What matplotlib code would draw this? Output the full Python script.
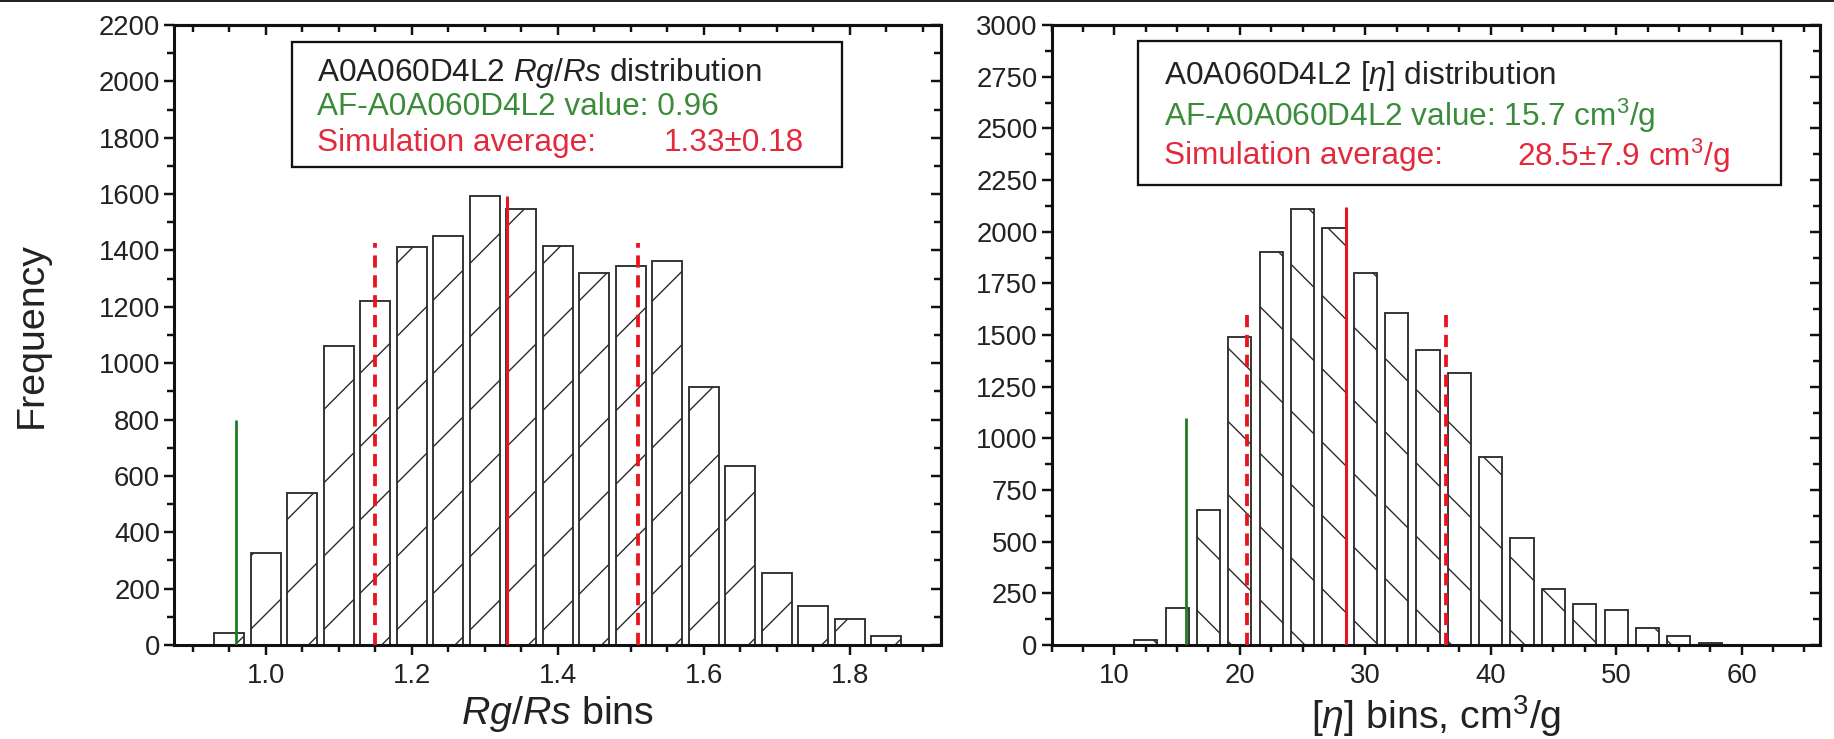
import matplotlib
matplotlib.use('Agg')
import matplotlib.pyplot as plt
from matplotlib.lines import Line2D
from matplotlib.patches import Rectangle
from matplotlib.ticker import MultipleLocator, FormatStrFormatter

# ---------------- data ----------------
rg_bins = [0.95, 1.00, 1.05, 1.10, 1.15, 1.20, 1.25, 1.30, 1.35, 1.40,
           1.45, 1.50, 1.55, 1.60, 1.65, 1.70, 1.75, 1.80, 1.85]
rg_freq = [42, 325, 538, 1060, 1220, 1412, 1450, 1593, 1548, 1416,
           1320, 1346, 1362, 915, 635, 255, 138, 93, 32]
rg_af_value = 0.96
rg_mean = 1.33
rg_sd = 0.18
rg_af_height = 800
rg_mean_height = 1595
rg_sd_height = 1425

eta_bins = [12.5, 15.0, 17.5, 20.0, 22.5, 25.0, 27.5, 30.0, 32.5, 35.0,
            37.5, 40.0, 42.5, 45.0, 47.5, 50.0, 52.5, 55.0, 57.5]
eta_freq = [22, 178, 653, 1490, 1902, 2112, 2016, 1801, 1606, 1428,
            1315, 910, 517, 270, 198, 168, 80, 43, 12]
eta_af_value = 15.7
eta_mean = 28.5
eta_sd = 7.9
eta_af_height = 1100
eta_mean_height = 2120
eta_sd_height = 1625

rg_legend = ["A0A060D4L2 $Rg/Rs$ distribution",
             "AF-A0A060D4L2 value: 0.96",
             "Simulation average:", "1.33\u00b10.18"]
eta_legend = ["A0A060D4L2 [$\\eta$] distribution",
              "AF-A0A060D4L2 value: 15.7 cm$^3$/g",
              "Simulation average:", "28.5\u00b17.9 cm$^3$/g"]

# ---------------- style ----------------
plt.rcParams['font.family'] = ['Liberation Sans', 'DejaVu Sans']
plt.rcParams['mathtext.fontset'] = 'custom'
plt.rcParams['mathtext.rm'] = 'Liberation Sans'
plt.rcParams['mathtext.it'] = 'Liberation Sans:italic'
plt.rcParams['mathtext.bf'] = 'Liberation Sans:bold'
plt.rcParams['hatch.linewidth'] = 0.45

DPI = 220
W, H = 1834, 739
TXT = '#222222'
EDGE = '#2a2a2a'
GREEN_LINE = '#1e7a1e'
GREEN_TXT = '#3a8c3a'
RED_LINE = '#e8141e'
RED_TXT = '#e32a3c'

fig = plt.figure(figsize=(W / DPI, H / DPI), dpi=DPI)
ax1 = fig.add_axes([174.3 / W, 94 / H, 766.7 / W, 620 / H])
ax2 = fig.add_axes([1051.7 / W, 94 / H, 768.3 / W, 620 / H])

# top border line of the image
fig.add_artist(Line2D([0, 1], [0.999, 0.999], transform=fig.transFigure,
                      color='#111111', lw=0.6))


def style_axes(ax, xmaj, xmin, ymaj, ymin, xfmt, yfmt):
    for s in ax.spines.values():
        s.set_linewidth(1.0)
        s.set_color('#111111')
    ax.xaxis.set_major_locator(MultipleLocator(xmaj))
    ax.xaxis.set_minor_locator(MultipleLocator(xmin))
    ax.yaxis.set_major_locator(MultipleLocator(ymaj))
    ax.yaxis.set_minor_locator(MultipleLocator(ymin))
    ax.xaxis.set_major_formatter(FormatStrFormatter(xfmt))
    ax.yaxis.set_major_formatter(FormatStrFormatter(yfmt))
    ax.tick_params(axis='both', which='both', direction='out',
                   top=False, right=False, width=0.8, color='#111111',
                   labelsize=9.0, labelcolor=TXT)
    ax.tick_params(axis='both', which='major', length=3.4)
    ax.tick_params(axis='x', which='major', pad=2.5)
    ax.tick_params(axis='y', which='major', pad=1.2)
    ax.tick_params(axis='both', which='minor', length=2.2)
    secx = ax.secondary_xaxis('top')
    secx.xaxis.set_major_locator(MultipleLocator(xmaj))
    secx.xaxis.set_minor_locator(MultipleLocator(xmin))
    secx.tick_params(axis='x', which='both', direction='in', labeltop=False,
                     width=0.8, color='#111111')
    secx.tick_params(axis='x', which='major', length=3.4)
    secx.tick_params(axis='x', which='minor', length=2.2)
    secx.spines['top'].set_linewidth(1.0)
    secy = ax.secondary_yaxis('right')
    secy.yaxis.set_major_locator(MultipleLocator(ymaj))
    secy.yaxis.set_minor_locator(MultipleLocator(ymin))
    secy.tick_params(axis='y', which='both', direction='in', labelright=False,
                     width=0.8, color='#111111')
    secy.tick_params(axis='y', which='major', length=3.4)
    secy.tick_params(axis='y', which='minor', length=2.2)
    secy.spines['right'].set_linewidth(1.0)


def legend_box(ax, x0, y0, x1, y1, lines, xs, ys, xval):
    ax.add_patch(Rectangle((x0, y0), x1 - x0, y1 - y0, transform=ax.transAxes,
                           facecolor='white', edgecolor='#111111', lw=0.75,
                           zorder=5, clip_on=False))
    kw = dict(transform=ax.transAxes, fontsize=10.3, va='center', ha='left', zorder=6)
    ax.text(xs, ys[0], lines[0], color=TXT, **kw)
    ax.text(xs, ys[1], lines[1], color=GREEN_TXT, **kw)
    ax.text(xs, ys[2], lines[2], color=RED_TXT, **kw)
    ax.text(xval, ys[2], lines[3], color=RED_TXT, **kw)


# ---------------- left panel ----------------
ax1.bar(rg_bins, rg_freq, width=0.041, facecolor='white', edgecolor=EDGE,
        linewidth=0.6, hatch='/', zorder=2)
ax1.vlines(rg_af_value, 0, rg_af_height, color=GREEN_LINE, lw=0.9, zorder=3)
ax1.vlines(rg_mean, 0, rg_mean_height, color=RED_LINE, lw=1.0, zorder=3)
ax1.vlines([rg_mean - rg_sd, rg_mean + rg_sd], 0, rg_sd_height, color=RED_LINE,
           lw=1.25, linestyles=[(0, (3.2, 2.0))], zorder=3)
ax1.set_xlim(0.875, 1.925)
ax1.set_ylim(0, 2200)
style_axes(ax1, 0.2, 0.05, 200, 100, '%.1f', '%d')
ax1.set_ylabel('Frequency', fontsize=12.9, color=TXT, labelpad=16)
ax1.set_xlabel('$Rg/Rs$ bins', fontsize=12.9, color=TXT, labelpad=1.5)
legend_box(ax1, 0.1535, 0.771, 0.871, 0.973, rg_legend, 0.186,
           [0.922, 0.867, 0.810], 0.638)

# ---------------- right panel ----------------
ax2.bar(eta_bins, eta_freq, width=1.85, facecolor='white', edgecolor=EDGE,
        linewidth=0.6, hatch='\\', zorder=2)
ax2.vlines(eta_af_value, 0, eta_af_height, color=GREEN_LINE, lw=0.9, zorder=3)
ax2.vlines(eta_mean, 0, eta_mean_height, color=RED_LINE, lw=1.0, zorder=3)
ax2.vlines([eta_mean - eta_sd, eta_mean + eta_sd], 0, eta_sd_height, color=RED_LINE,
           lw=1.25, linestyles=[(0, (3.2, 2.0))], zorder=3)
ax2.set_xlim(5, 66.25)
ax2.set_ylim(0, 3000)
style_axes(ax2, 10, 2.5, 250, 125, '%d', '%d')
ax2.set_xlabel('[$\\eta$] bins, cm$^3$/g', fontsize=12.9, color=TXT, labelpad=1.5)
legend_box(ax2, 0.112, 0.742, 0.949, 0.974, eta_legend, 0.146,
           [0.918, 0.853, 0.789], 0.606)

fig.savefig('out.png', dpi=DPI)
